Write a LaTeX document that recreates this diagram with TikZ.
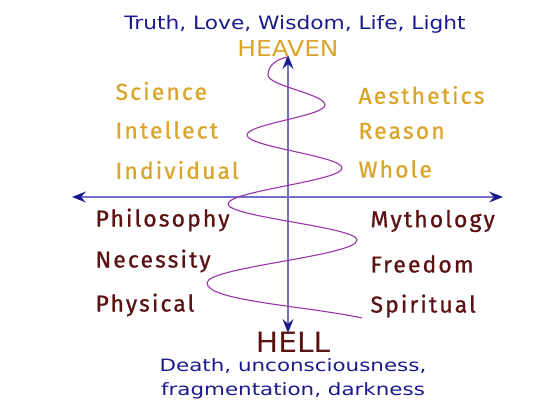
\documentclass[tikz,border=0pt]{standalone}
\usepackage{fontspec}
\setmainfont{DejaVu Sans}
\newfontfamily\labfont[LetterSpace=9,FakeBold=0.8]{Fira Sans}
\usetikzlibrary{arrows.meta}
\definecolor{navy}{HTML}{1A1A8C}
\definecolor{axisblue}{HTML}{7070C4}
\definecolor{gold}{HTML}{DAA52A}
\definecolor{brown}{HTML}{5A1212}
\definecolor{curve}{HTML}{9933A8}
\tikzset{
  axisline/.style={draw=axisblue, line width=1.4pt, -{Stealth[length=14pt,width=11pt,inset=5pt,fill=navy,color=navy]}},
  toplab/.style={anchor=west, text=gold, font=\labfont\fontsize{23}{24}\selectfont},
  botlab/.style={anchor=west, text=brown, font=\labfont\fontsize{23}{24}\selectfont},
  caption/.style={text=navy, font=\fontsize{17.5}{24.5}\selectfont, align=center},
  spiral/.style={draw=curve, line width=1.1pt}
}
\begin{document}
\begin{tikzpicture}[x=1pt,y=-1pt]
\useasboundingbox (0,0) rectangle (560,420);
% axes
\coordinate (vb) at (288,333);
\coordinate (vt) at (288,55);
\coordinate (hl) at (72,197);
\coordinate (hr) at (503,197);
\coordinate (c) at (288,197);
\draw[axisline] (c) -- (vt);
\draw[axisline] (c) -- (vb);
\draw[axisline] (c) -- (hl);
\draw[axisline] (c) -- (hr);
% spiral
\coordinate (s0) at (288,57);
\coordinate (l1) at (268,75);
\coordinate (r1) at (325,105);
\coordinate (l2) at (247,135);
\coordinate (r2) at (342,168);
\coordinate (l3) at (228,204);
\coordinate (r3) at (357,240);
\coordinate (l4) at (207,283);
\coordinate (se) at (362,318);
\draw[spiral] (s0) .. controls +(-12,2) and +(0,-9) .. (l1)
  .. controls +(0,11) and +(0,-11) .. (r1)
  .. controls +(0,11) and +(0,-11) .. (l2)
  .. controls +(0,12) and +(0,-12) .. (r2)
  .. controls +(0,13) and +(0,-13) .. (l3)
  .. controls +(0,13) and +(0,-13) .. (r3)
  .. controls +(0,16) and +(0,-16) .. (l4)
  .. controls +(0,18) and +(-55,-12) .. (se);
% texts
\node[caption, font=\fontsize{18.4}{24}\selectfont, xscale=1.18] (truth) at (295,24) {Truth, Love, Wisdom, Life, Light};
\node[text=gold, font=\fontsize{22}{24}\selectfont, xscale=1.13] (heaven) at (288,48) {HEAVEN};
\node[text=brown, font=\fontsize{28}{30}\selectfont, xscale=1.06] (hell) at (293,342) {HELL};
\node[caption, font=\fontsize{17}{24.5}\selectfont, xscale=1.26] (death) at (293,379) {Death, unconsciousness,\\fragmentation, darkness};
\node[toplab] (sci) at (112,91) {Science};
\node[toplab] (int) at (112,130) {Intellect};
\node[toplab] (ind) at (112,170) {Individual};
\node[toplab] (aes) at (355,95) {Aesthetics};
\node[toplab] (rea) at (355,131) {Reason};
\node[toplab] (who) at (355,169) {Whole};
\node[botlab] (phi) at (92,220) {Philosophy};
\node[botlab] (nec) at (92,261) {Necessity};
\node[botlab] (phy) at (92,305) {Physical};
\node[botlab] (myt) at (367,221) {Mythology};
\node[botlab] (fre) at (367,264) {Freedom};
\node[botlab] (spi) at (367,306) {Spiritual};
\end{tikzpicture}
\end{document}
